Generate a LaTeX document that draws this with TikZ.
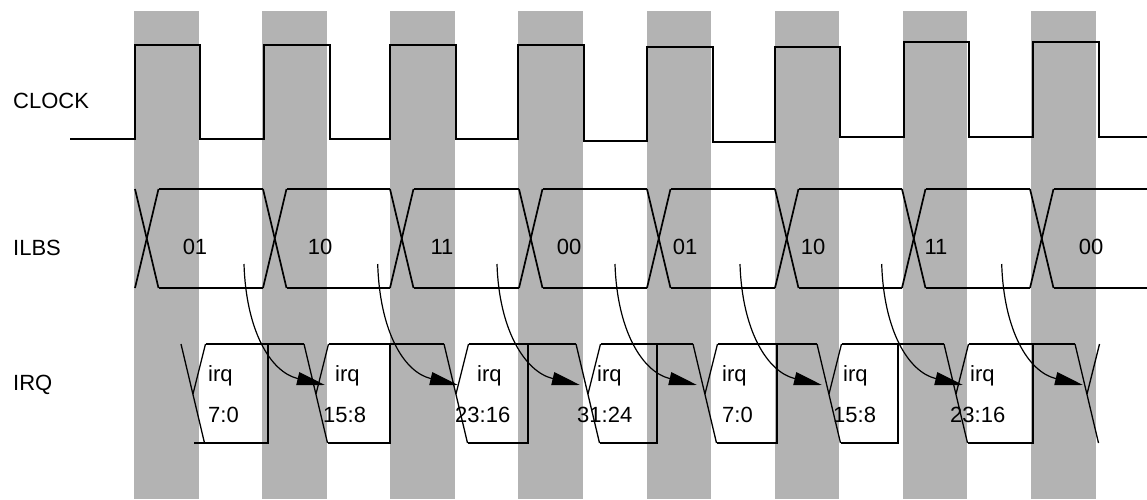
\documentclass[tikz,border=0pt]{standalone}
\usepackage{fontspec}
\setmainfont{Liberation Sans}
\usetikzlibrary{arrows.meta}
\definecolor{bandgray}{RGB}{179,179,179}
\begin{document}
\begin{tikzpicture}[x=1pt,y=-1pt,
  band/.style={fill=bandgray},
  clockline/.style={line width=2pt,line join=miter},
  busline/.style={line width=1.7pt},
  irqline/.style={line width=2pt,line join=miter},
  edgeline/.style={line width=1.3pt},
  flow/.style={line width=1.2pt,-{Triangle[length=28pt,width=13pt]}},
  lbl/.style={font=\fontsize{22}{26}\selectfont,inner sep=0pt,anchor=base west},
  val/.style={font=\fontsize{22}{26}\selectfont,inner sep=0pt,anchor=base}]
\useasboundingbox (0,0) rectangle (1147,499);
% gray bands
\foreach \k in {0,...,7} \fill[band] ({134+128.15*\k},11) rectangle +(64.5,488);
% signal names
\node[lbl] (clk) at (13,108) {CLOCK};
\node[lbl] (ilbs) at (13,255) {ILBS};
\node[lbl] (irq) at (13,390) {IRQ};
% clock
\draw[clockline] (70,139) -- (135,139) -- (135,45) -- (200,45) -- (200,139)
  -- (264,139) -- (264,45) -- (330,45) -- (330,139)
  -- (390,139) -- (390,45) -- (456,45) -- (456,139)
  -- (518,139) -- (518,45) -- (584,45) -- (584,141)
  -- (647,141) -- (647,47) -- (713,47) -- (713,142)
  -- (775,142) -- (775,47) -- (840,47) -- (840,137)
  -- (904,137) -- (904,42) -- (969,42) -- (969,137)
  -- (1033,137) -- (1033,42) -- (1099,42) -- (1099,137) -- (1147,137);
% ILBS bus
\foreach \x/\n in {135/263,263/390,390/519,519/647,647/775,775/902,902/1030,1030/1147} {
  \draw[busline] (\x,189) -- ({\x+23.5},288);
  \draw[busline] (\x,288) -- ({\x+23.5},189);
  \draw[busline] ({\x+23.5},189) -- (\n,189);
  \draw[busline] ({\x+23.5},288) -- (\n,288);
}
\node[val] (v1) at (195,254) {01};
\node[val] (v2) at (320,254) {10};
\node[val] (v3) at (442,254) {11};
\node[val] (v4) at (569,254) {00};
\node[val] (v5) at (685,254) {01};
\node[val] (v6) at (813,254) {10};
\node[val] (v7) at (936,254) {11};
\node[val] (v8) at (1091,254) {00};
% IRQ
\foreach \t in {181,304,444,576,693,817,944,1075} {
  \draw[edgeline] (\t,344) -- ({\t+23.5},443);
  \draw[edgeline] ({\t+24.5},344) -- ({\t+12},394);
}
\foreach \t/\n/\v/\b in {181/304/268/194, 304/444/390/327.5, 444/576/528/467.5, 576/693/657/599.5, 693/817/777/716.5, 817/944/898/840.5, 944/1075/1033/967.5} {
  \draw[irqline] ({\t+24.5},344) -- (\n,344);
  \draw[irqline] (\b,443) -- (\v,443) -- (\v,344);
}
\foreach \i/\xa/\xb/\num in {1/208/208/7:0, 2/335/323/15:8, 3/477/455/23:16, 4/597/577/31:24, 5/722/722/7:0, 6/843/833/15:8, 7/970/950/23:16} {
  \node[lbl] (irqa\i) at (\xa,381) {irq};
  \node[lbl] (irqb\i) at (\xb,422) {\num};
}
% arrows from ILBS values to IRQ transitions
\foreach \i/\s/\e in {1/244/325, 2/377.7/458, 3/497/580, 4/615/697, 5/740/822, 6/881.7/963, 7/1001.7/1083} {
  \coordinate (a\i) at (\s,264);
  \coordinate (b\i) at (\e,385);
  \draw[flow] (a\i) .. controls +(2,66) and +(-55,-13) .. (b\i);
}
\end{tikzpicture}
\end{document}
